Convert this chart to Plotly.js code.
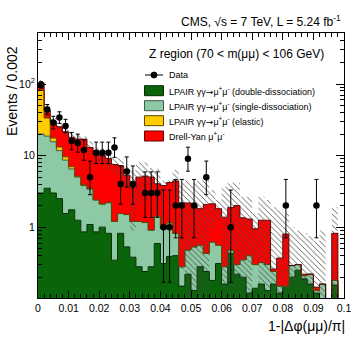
<!DOCTYPE html>
<html>
<head>
<meta charset="utf-8">
<script src="https://cdn.plot.ly/plotly-3.0.1.min.js"></script>
<style>
  html, body { margin: 0; padding: 0; background: #fff; }
  #plot { width: 354px; height: 340px; }
</style>
</head>
<body>
<div id="plot"></div>
<script>
// histogram binning: 50 bins of 0.002 on [0, 0.1]
const nBins = 50;
const binWidth = 0.002;

// LPAIR gg->mumu double-dissociation (events / bin)
const ddVals = [3.0, 3.5, 3.0, 2.5, 1.55, 1.75, 1.25, 0.86, 1.09, 0.86,
                1.0, 0.82, 0.345, 0.82, 0.53, 0.38, 0.28, 0.24, 0.28, 0.59,
                0.31, 0.39, 0.40, 0.15, 0.22, 0.13, 0.28, 0.24, 0.18, 0.31,
                0.16, 0.43, 0.22, 0.20, 0.12, 0.14, 0.16, 0.13, 0.16, 0.12,
                0.15, 0.20, 0.25, 0.19, 0.16, 0.12, 0.05, 0, 0.155, 0];
// LPAIR single-dissociation
const sdVals = [17.0, 15.2, 12.6, 9.2, 7.1, 4.75, 3.75, 2.94, 2.31, 1.54,
                1.1, 1.38, 0.855, 0.73, 0.97, 0.82, 0.92, 0.92, 0.63, 0.84,
                0.65, 0.76, 0.42, 0.13, 0.26, 0.40, 0.28, 0.19, 0.44, 0.25,
                0.12, 0.05, 0.08, 0.15, 0.28, 0.16, 0.16, 0.17, 0.08, 0.03,
                0, 0.09, 0.05, 0.02, 0.06, 0.01, 0.11, 0, 0.025, 0];
// LPAIR elastic
const elVals = [62, 14.8, 2.0, 1.5, 0.95, 0.5, 0.15, 0.08, 0.05, 0,
                0, 0, 0, 0, 0, 0, 0, 0, 0, 0,
                0, 0, 0, 0, 0, 0, 0, 0, 0, 0,
                0, 0, 0, 0, 0, 0, 0, 0, 0, 0,
                0, 0, 0, 0, 0, 0, 0, 0, 0, 0];
// Drell-Yan mumu
const dyVals = [22, 9.5, 12.4, 12.1, 11.9, 11, 11.85, 13.1, 9.55, 7.9,
                7.9, 6.9, 6.3, 5.65, 3.8, 2.4, 3.8, 4.0, 4.1, 2.6,
                2.85, 3.05, 3.6, 1.9, 1.7, 1.5, 1.25, 1.65, 1.5, 1.25,
                1.1, 1.4, 1.7, 1.0, 0.9, 0.65, 0.93, 0.95, 0.02, 0.22,
                0.65, 0, 0, 0.01, 0, 0.015, 0, 0, 0.64, 0];
// upper edge of the hatched MC uncertainty band
const mcUpper = [114, 50, 33.5, 28, 24.5, 21, 20, 18.5, 15.9, 13,
                 12.7, 12, 9.5, 9.2, 7.1, 6.3, 8.0, 8.0, 6.7, 6.5,
                 4.5, 4.5, 6.3, 4.1, 4.5, 4.1, 4.5, 4.5, 3.3, 2.4,
                 3.7, 4.2, 4.1, 2.65, 2.65, 1.55, 2.65, 2.4, 1.9, 1.75,
                 1.55, 1.0, 0.9, 0.82, 0.75, 0.64, 0.9, 0, 1.9, 0];
// data counts and asymmetric (Poisson) errors
const dataCounts = [97, 44, 29, 34, 26, 16, 15, 12, 5, 11,
                    11, 11, 13, 4, 6, 4, 0, 3, 3, 3,
                    1, 1, 2, 2, 9, 2, 0, 5, 0, 0,
                    0, 1, 0, 0, 0, 0, 0, 0, 0, 0,
                    2, 0, 0, 0, 0, 2, 0, 0, 0, 0];
const dataErrLow = [9.4, 6.6, 5.4, 5.8, 5.1, 3.95, 3.83, 3.41, 2.16, 3.27,
                    3.27, 3.27, 3.56, 1.91, 2.38, 1.91, 0, 1.63, 1.63, 1.63,
                    0.83, 0.83, 1.29, 1.29, 2.94, 1.29, 0, 2.16, 0, 0,
                    0, 0.83, 0, 0, 0, 0, 0, 0, 0, 0,
                    1.29, 0, 0, 0, 0, 1.29, 0, 0, 0, 0];
const dataErrHigh = [10.9, 7.7, 6.4, 6.9, 6.1, 5.08, 4.96, 4.56, 3.38, 4.42,
                     4.42, 4.42, 4.70, 3.16, 3.58, 3.16, 0, 2.92, 2.92, 2.92,
                     2.30, 2.30, 2.64, 2.64, 4.11, 2.64, 0, 3.38, 0, 0,
                     0, 2.30, 0, 0, 0, 0, 0, 0, 0, 0,
                     2.64, 0, 0, 0, 0, 2.64, 0, 0, 0, 0];

// axis ticks
const yTickVals = [1, 10, 100];
const yTickText = ['1', '10', '10<sup>2</sup>'];
const yMinorVals = [0.2, 0.3, 0.4, 0.5, 0.6, 0.7, 0.8, 0.9,
                    2, 3, 4, 5, 6, 7, 8, 9,
                    20, 30, 40, 50, 60, 70, 80, 90,
                    200, 300, 400, 500];

const ARROW = '<span style="font-family:DejaVu Sans">→</span>';
const legendLabels = [
  'Data',
  'LPAIR γγ' + ARROW + 'μ<sup>+</sup>μ<sup>-</sup> (double-dissociation)',
  'LPAIR γγ' + ARROW + 'μ<sup>+</sup>μ<sup>-</sup> (single-dissociation)',
  'LPAIR γγ' + ARROW + 'μ<sup>+</sup>μ<sup>-</sup> (elastic)',
  'Drell-Yan μ<sup>+</sup>μ<sup>-</sup>'
];

const FONT = 'Liberation Sans, Arial, Helvetica, sans-serif';
const FLOOR = 1e-3;   // anything below the axis range on the log scale

// bin edges / centres
const edges = [];
for (let i = 0; i <= nBins; i++) edges.push(+(i * binWidth).toFixed(4));
const centres = edges.slice(0, nBins).map(e => e + binWidth / 2);

// cumulative stack (dd, +sd, +el, +dy)
const cum1 = ddVals.map(v => v);
const cum2 = cum1.map((v, i) => v + sdVals[i]);
const cum3 = cum2.map((v, i) => v + elVals[i]);
const cum4 = cum3.map((v, i) => v + dyVals[i]);

// step helper for hv lines: one y per edge (repeat the last bin)
const stepY = arr => {
  const ys = arr.map(v => Math.max(v, FLOOR));
  ys.push(ys[ys.length - 1]);
  return ys;
};

const bandHi = cum4.map((t, i) => Math.max(mcUpper[i], FLOOR));
const bandLo = cum4.map((t, i) => Math.max(2 * t - mcUpper[i], FLOOR));

const stackDefs = [
  { y: cum1, fill: '#0a650a', line: '#032903' },
  { y: cum2, fill: '#8ec9a5', line: '#3b5a47' },
  { y: cum3, fill: '#ffcc00', line: '#5a4a00' },
  { y: cum4, fill: '#ff0000', line: '#5a0000' }
];

const traces = [];
// invisible baseline for the first fill
traces.push({
  x: edges, y: edges.map(() => FLOOR), mode: 'lines',
  line: { width: 0, shape: 'hv' }, hoverinfo: 'skip', showlegend: false
});
stackDefs.forEach(s => {
  traces.push({
    x: edges, y: stepY(s.y), mode: 'lines',
    line: { color: s.line, width: 1, shape: 'hv' },
    fill: 'tonexty', fillcolor: s.fill,
    hoverinfo: 'skip', showlegend: false
  });
});

// hatched uncertainty band
traces.push({
  x: edges, y: stepY(bandLo), mode: 'lines',
  line: { width: 0, shape: 'hv' }, hoverinfo: 'skip', showlegend: false
});
traces.push({
  x: edges, y: stepY(bandHi), mode: 'lines',
  line: { width: 0, shape: 'hv' },
  fill: 'tonexty', fillcolor: 'rgba(0,0,0,0)',
  fillpattern: { shape: '\\', fgcolor: '#444', size: 4, solidity: 0.2 },
  hoverinfo: 'skip', showlegend: false
});

// data points (empty bins are not drawn on the log scale)
traces.push({
  x: centres,
  y: dataCounts.map(n => (n > 0 ? n : null)),
  mode: 'markers',
  marker: { color: '#000', size: 6.5, symbol: 'circle' },
  error_y: {
    type: 'data', symmetric: false,
    array: dataErrHigh, arrayminus: dataErrLow,
    color: '#000', thickness: 1, width: 2
  },
  showlegend: false
});

// hand-made legend in ROOT style
const pxX = px => (px - 38) / 306;
const pxY = py => (298 - py) / 265;
const rowY = [75, 90.7, 105.7, 120.7, 136];
const shapes = [];
const annotations = [];

shapes.push({ type: 'line', xref: 'paper', yref: 'paper',
  x0: pxX(145), x1: pxX(163), y0: pxY(rowY[0]), y1: pxY(rowY[0]),
  line: { color: '#000', width: 1 } });
shapes.push({ type: 'circle', xref: 'paper', yref: 'paper',
  x0: pxX(151), x1: pxX(157), y0: pxY(rowY[0] + 3), y1: pxY(rowY[0] - 3),
  fillcolor: '#000', line: { color: '#000', width: 1 } });
stackDefs.forEach((s, k) => {
  const yc = rowY[k + 1];
  shapes.push({ type: 'rect', xref: 'paper', yref: 'paper',
    x0: pxX(144.5), x1: pxX(163.5), y0: pxY(yc + 5), y1: pxY(yc - 5),
    fillcolor: s.fill, line: { color: s.line, width: 1 } });
});
legendLabels.forEach((t, k) => {
  annotations.push({ xref: 'paper', yref: 'paper', x: pxX(167), y: pxY(rowY[k]),
    xanchor: 'left', yanchor: 'middle', showarrow: false, text: t,
    font: { family: FONT, size: 9, color: '#000' } });
});

annotations.push({ xref: 'paper', yref: 'paper', x: pxX(343), y: pxY(21),
  xanchor: 'right', yanchor: 'middle', showarrow: false,
  text: 'CMS, √s = 7 TeV, L = 5.24 fb<sup>-1</sup>',
  font: { family: FONT, size: 12, color: '#000' } });
annotations.push({ xref: 'paper', yref: 'paper', x: pxX(236.5), y: pxY(53.5),
  xanchor: 'center', yanchor: 'middle', showarrow: false,
  text: 'Z region (70 < m(μμ) < 106 GeV)',
  font: { family: FONT, size: 12, color: '#000' } });
annotations.push({ xref: 'paper', yref: 'paper', x: pxX(12), y: pxY(44),
  xanchor: 'center', yanchor: 'top', textangle: -90, showarrow: false,
  text: 'Events / 0.002',
  font: { family: FONT, size: 14, color: '#000' } });
annotations.push({ xref: 'paper', yref: 'paper', x: pxX(347), y: pxY(326),
  xanchor: 'right', yanchor: 'middle', showarrow: false,
  text: '1-|Δφ(μμ)/π|',
  font: { family: FONT, size: 14, color: '#000' } });

const layout = {
  width: 354, height: 340,
  margin: { l: 38, r: 10, t: 33, b: 42 },
  paper_bgcolor: '#fff', plot_bgcolor: '#fff',
  showlegend: false,
  font: { family: FONT, color: '#000' },
  xaxis: {
    range: [0, 0.1], tick0: 0, dtick: 0.01,
    ticks: 'inside', ticklen: 7, tickwidth: 1, tickcolor: '#000',
    showline: true, linecolor: '#000', linewidth: 1, mirror: 'allticks',
    showgrid: false, zeroline: false,
    tickfont: { family: FONT, size: 10.5, color: '#000' },
    minor: { dtick: 0.002, ticks: 'inside', ticklen: 4, tickcolor: '#000', showgrid: false }
  },
  yaxis: {
    type: 'log', range: [-0.99, 2.713],
    tickmode: 'array', tickvals: yTickVals, ticktext: yTickText,
    ticks: 'inside', ticklen: 8, tickwidth: 1, tickcolor: '#000',
    showline: true, linecolor: '#000', linewidth: 1, mirror: 'allticks',
    showgrid: false, zeroline: false,
    tickfont: { family: FONT, size: 10.5, color: '#000' },
    minor: { tickmode: 'array', tickvals: yMinorVals, ticks: 'inside', ticklen: 4,
             tickcolor: '#000', showgrid: false }
  },
  shapes,
  annotations
};

Plotly.newPlot('plot', traces, layout, { displayModeBar: false, staticPlot: true });
</script>
</body>
</html>
